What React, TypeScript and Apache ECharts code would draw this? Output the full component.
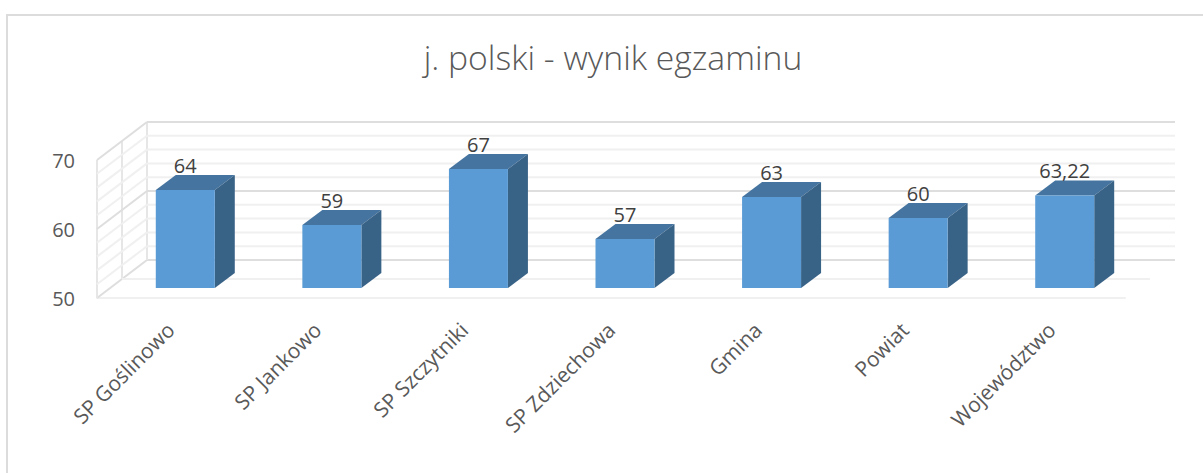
import React, { useEffect, useRef } from "react";
import * as echarts from "echarts";

const categories = ["SP Goślinowo", "SP Jankowo", "SP Szczytniki", "SP Zdziechowa", "Gmina", "Powiat", "Województwo"];
const values = [64, 59, 67, 57, 63, 60, 63.22];
const valueLabels = ["64", "59", "67", "57", "63", "60", "63,22"];
const wallTicks = [50, 52, 54, 56, 58, 60, 62, 64, 66, 68, 70];
const titleText = "j. polski - wynik egzaminu";

const FONT = "'Open Sans', sans-serif";
const DX = 20;
const DY = 15;
const SIDE_DX = 50;
const SIDE_DY = 38;

export default function App() {
  const ref = useRef<HTMLDivElement>(null);
  useEffect(() => {
    const chart = echarts.init(ref.current!, undefined, { renderer: "svg" });
    const isMajor = (v: number) => v % 10 === 0;
    chart.setOption({
      animation: false,
      backgroundColor: "#ffffff",
      title: {
        text: titleText,
        left: 608,
        top: 35,
        textAlign: "center",
        textStyle: { fontFamily: FONT, fontWeight: 300, fontSize: 33.7, color: "#595959" },
      },
      grid: [
        { left: 147, top: 122, width: 1028, height: 138 },
        { left: 97, top: 160, width: 1028, height: 138 },
        { left: 112, top: 148, width: 1026, height: 140 },
      ],
      xAxis: [
        { gridIndex: 0, type: "category", data: categories, show: false },
        {
          gridIndex: 1,
          type: "category",
          data: categories,
          axisLine: { show: true, lineStyle: { color: "#f0f0f0", width: 2 } },
          axisTick: { show: false },
          axisLabel: {
            rotate: 45,
            interval: 0,
            margin: 28,
            fontFamily: FONT,
            fontSize: 21,
            color: "#595959",
          },
        },
        { gridIndex: 2, type: "category", data: categories, show: false },
      ],
      yAxis: [
        {
          gridIndex: 0,
          type: "value",
          min: 50,
          max: 70,
          interval: 2,
          axisLine: { show: false },
          axisTick: { show: false },
          axisLabel: { show: false },
          splitLine: { show: false },
        },
        {
          gridIndex: 1,
          type: "value",
          min: 50,
          max: 70,
          interval: 10,
          axisLine: { show: false },
          axisTick: { show: false },
          axisLabel: { margin: 22, fontFamily: FONT, fontSize: 20, color: "#595959" },
          splitLine: { show: false },
        },
        {
          gridIndex: 2,
          type: "value",
          min: 50,
          max: 70,
          axisLine: { show: false },
          axisTick: { show: false },
          axisLabel: { show: false },
          splitLine: { show: false },
        },
      ],
      series: [
        {
          // back wall and side wall grid lines
          type: "custom",
          xAxisIndex: 0,
          yAxisIndex: 0,
          silent: true,
          z: 1,
          data: wallTicks.map((v) => [0, v]),
          encode: { x: 0, y: 1 },
          renderItem: (params: any, api: any) => {
            const v = api.value(1);
            const [, y] = api.coord([0, v]);
            const left = params.coordSys.x;
            const right = left + params.coordSys.width;
            const stroke = isMajor(v) ? "#dedede" : "#f0f0f0";
            const style = { stroke, lineWidth: 2, fill: "none" };
            const children: any[] = [
              { type: "line", shape: { x1: left, y1: y, x2: right, y2: y }, style },
              { type: "line", shape: { x1: left - SIDE_DX, y1: y + SIDE_DY, x2: left, y2: y }, style },
            ];
            if (v === 50) {
              const top = params.coordSys.y;
              const bottom = top + params.coordSys.height;
              const vs = { stroke: "#e6e6e6", lineWidth: 2, fill: "none" };
              children.push(
                { type: "line", shape: { x1: left, y1: top, x2: left, y2: bottom }, style: vs },
                { type: "line", shape: { x1: left - SIDE_DX / 2, y1: top + SIDE_DY / 2, x2: left - SIDE_DX / 2, y2: bottom + SIDE_DY / 2 }, style: vs },
                { type: "line", shape: { x1: left - SIDE_DX, y1: top + SIDE_DY, x2: left - SIDE_DX, y2: bottom + SIDE_DY }, style: vs },
                { type: "line", shape: { x1: left - SIDE_DX / 2, y1: bottom + SIDE_DY / 2, x2: right - SIDE_DX / 2, y2: bottom + SIDE_DY / 2 }, style: { stroke: "#f0f0f0", lineWidth: 2, fill: "none" } },
              );
            }
            return { type: "group", children };
          },
        },
        {
          // 3D bars
          type: "custom",
          xAxisIndex: 2,
          yAxisIndex: 2,
          silent: true,
          z: 3,
          data: values.map((v, i) => [i, v]),
          encode: { x: 0, y: 1 },
          renderItem: (_params: any, api: any) => {
            const i = api.value(0);
            const v = api.value(1);
            const [cx, yTop] = api.coord([i, v]);
            const [, yBase] = api.coord([i, 50]);
            const w = 59;
            const x0 = cx - w / 2;
            const x1 = cx + w / 2;
            return {
              type: "group",
              children: [
                {
                  type: "polygon",
                  shape: { points: [[x0, yTop], [x0 + DX, yTop - DY], [x1 + DX, yTop - DY], [x1, yTop]] },
                  style: { fill: "#44749f" },
                },
                {
                  type: "polygon",
                  shape: { points: [[x1, yTop], [x1 + DX, yTop - DY], [x1 + DX, yBase - DY], [x1, yBase]] },
                  style: { fill: "#396287" },
                },
                {
                  type: "rect",
                  shape: { x: x0, y: yTop, width: w, height: yBase - yTop },
                  style: { fill: "#5b9bd5" },
                },
                {
                  type: "text",
                  z2: 10,
                  style: {
                    text: valueLabels[i],
                    x: cx,
                    y: yTop - 25,
                    align: "center",
                    verticalAlign: "middle",
                    fontFamily: FONT,
                    fontSize: 20,
                    fill: "#404040",
                  },
                },
              ],
            };
          },
        },
      ],
      graphic: [
        {
          type: "rect",
          silent: true,
          z: 0,
          shape: { x: 7, y: 15, width: 1220, height: 480 },
          style: { fill: "none", stroke: "#dcdcdc", lineWidth: 2 },
        },
      ],
    });
    return () => chart.dispose();
  }, []);
  return <div ref={ref} style={{ position: "fixed", left: 0, top: 0, width: 1203, height: 473 }} />;
}
